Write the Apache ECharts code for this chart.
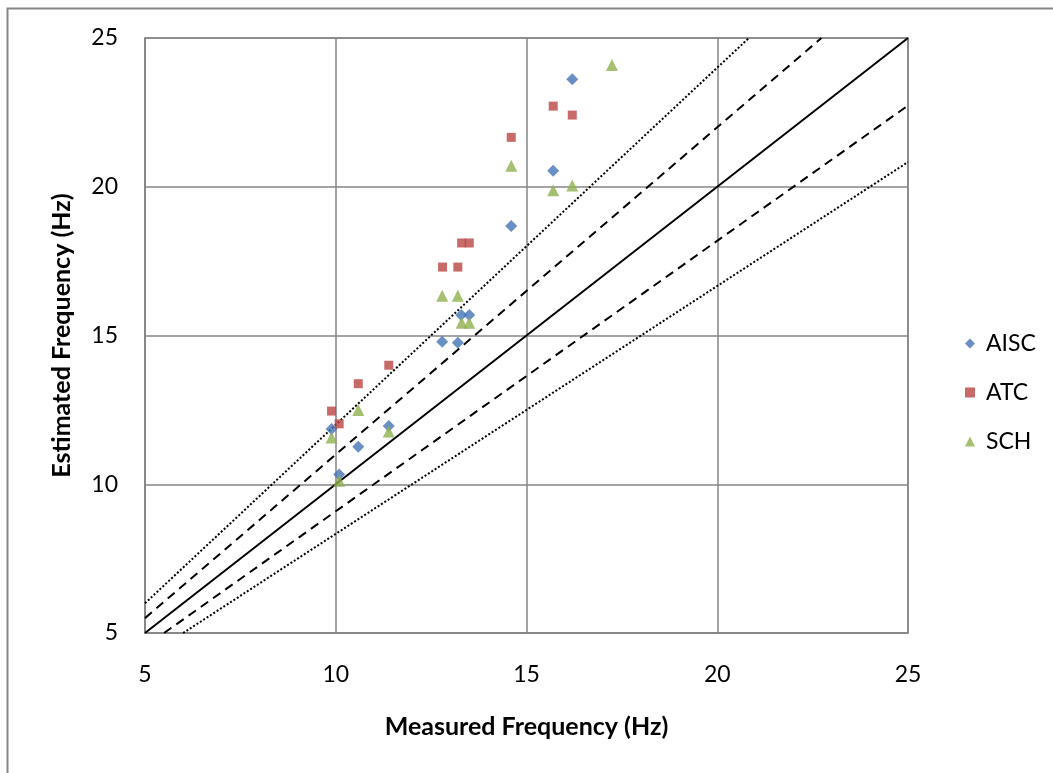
<!DOCTYPE html>
<html>
<head>
<meta charset="utf-8">
<script src="https://cdn.jsdelivr.net/npm/echarts@6/dist/echarts.min.js"></script>
<style>html,body{margin:0;padding:0;background:#fff}#c{width:1053px;height:773px}</style>
</head>
<body>
<div id="c"></div>
<script>
// Measured frequency (x) and estimated frequency (y) in Hz
const aiscX = [9.89, 10.09, 10.59, 11.39, 12.79, 13.2, 13.29, 13.5, 14.6, 15.7, 16.2];
const aiscY = [11.86, 10.33, 11.26, 11.96, 14.79, 14.76, 15.69, 15.69, 18.68, 20.54, 23.61];
const atcX = [9.89, 10.09, 10.59, 11.39, 12.8, 13.2, 13.3, 13.5, 14.6, 15.7, 16.2];
const atcY = [12.46, 12.03, 13.38, 14.0, 17.3, 17.3, 18.11, 18.11, 21.66, 22.71, 22.41];
const schX = [9.89, 10.09, 10.59, 11.39, 12.79, 13.2, 13.3, 13.5, 14.6, 15.7, 16.2, 17.24];
const schY = [11.57, 10.12, 12.5, 11.77, 16.34, 16.34, 15.43, 15.43, 20.71, 19.88, 20.04, 24.09];
// Reference lines (endpoints): y = x, y = 1.1x, y = x/1.1, y = 1.2x, y = x/1.2
const lineEqual = [[5, 5], [25, 25]];
const lineUp10 = [[5, 5.5], [22.73, 25]];
const lineDown10 = [[5.5, 5], [25, 22.73]];
const lineUp20 = [[5, 6], [20.83, 25]];
const lineDown20 = [[6, 5], [25, 20.83]];
const xTicks = [5, 10, 15, 20, 25];
const yTicks = [5, 10, 15, 20, 25];

const pair = (xs, ys) => xs.map((x, i) => [x, ys[i]]);
const FONT = 'Lato';
const chart = echarts.init(document.getElementById('c'), null, {renderer: 'canvas'});
const refLine = (data, type) => ({
  type: 'line', data: data, symbol: 'none', silent: true, z: 1,
  lineStyle: {color: '#000', width: 2, type: type}
});
chart.setOption({
  animation: false,
  backgroundColor: '#fff',
  textStyle: {fontFamily: FONT},
  graphic: [{
    type: 'rect', shape: {x: 7.5, y: 8.5, width: 1100, height: 800},
    style: {fill: 'none', stroke: '#868686', lineWidth: 2}, z: -1
  }],
  grid: {left: 145, top: 38, right: 145, bottom: 140, show: true, borderColor: '#868686', borderWidth: 1.5, backgroundColor: 'transparent'},
  legend: {
    orient: 'vertical', left: 960, top: 327, itemGap: 26, itemWidth: 10, itemHeight: 10,
    data: ['AISC', 'ATC', 'SCH'],
    textStyle: {fontFamily: FONT, fontSize: 23, color: '#000', padding: [0, 0, 0, 6]}
  },
  xAxis: {
    type: 'value', min: xTicks[0], max: xTicks[xTicks.length - 1], interval: 5,
    name: 'Measured Frequency (Hz)', nameLocation: 'middle', nameGap: 81,
    nameTextStyle: {fontFamily: FONT, fontSize: 25, fontWeight: 'bold', color: '#000'},
    axisLine: {lineStyle: {color: '#868686', width: 1.5}},
    axisTick: {show: false},
    axisLabel: {margin: 30, fontFamily: FONT, fontSize: 23, color: '#000'},
    splitLine: {lineStyle: {color: '#868686', width: 1.5}}
  },
  yAxis: {
    type: 'value', min: yTicks[0], max: yTicks[yTicks.length - 1], interval: 5,
    name: 'Estimated Frequency (Hz)', nameLocation: 'middle', nameGap: 71,
    nameTextStyle: {fontFamily: FONT, fontSize: 25, fontWeight: 'bold', color: '#000'},
    axisLine: {show: true, lineStyle: {color: '#868686', width: 1.5}},
    axisTick: {show: false},
    axisLabel: {margin: 27, fontFamily: FONT, fontSize: 23, color: '#000'},
    splitLine: {lineStyle: {color: '#868686', width: 1.5}}
  },
  series: [
    refLine(lineEqual, 'solid'),
    refLine(lineUp10, [9, 6]),
    refLine(lineDown10, [9, 6]),
    refLine(lineUp20, [2, 2]),
    refLine(lineDown20, [2, 2]),
    {name: 'AISC', type: 'scatter', data: pair(aiscX, aiscY), symbol: 'diamond', symbolSize: 12, z: 3,
     itemStyle: {color: '#4373B5'}},
    {name: 'ATC', type: 'scatter', data: pair(atcX, atcY), symbol: 'rect', symbolSize: 9, z: 3,
     itemStyle: {color: '#BA4542'}},
    {name: 'SCH', type: 'scatter', data: pair(schX, schY), symbol: 'triangle', symbolSize: 12, z: 3,
     itemStyle: {color: '#8FB04E'}}
  ]
});
</script>
</body>
</html>
